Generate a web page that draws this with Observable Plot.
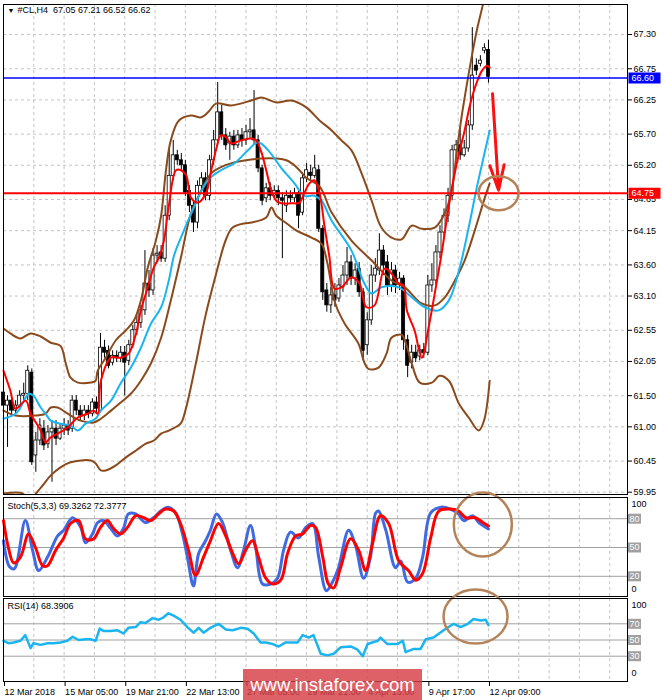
<!DOCTYPE html>
<html><head><meta charset="utf-8">
<script src="https://cdn.jsdelivr.net/npm/d3@7"></script>
<script src="https://cdn.jsdelivr.net/npm/@observablehq/plot@0.6"></script>
<style>
html,body{margin:0;padding:0;background:#fff;}
#chart{position:relative;width:665px;height:700px;overflow:hidden;background:#fff;font-family:'Liberation Sans',Arial,sans-serif;}
#chart svg{position:absolute;left:0;overflow:visible;background:transparent;}
#wm{position:absolute;left:243px;top:669px;width:179px;height:31px;background:rgba(214,62,70,0.82);color:#fff;font-size:18.5px;line-height:31px;text-align:center;font-family:'Liberation Sans',Arial,sans-serif;}
</style></head><body><div id="chart"><div id="wm">www.instaforex.com</div></div>
<script>
// ---------- data ----------
const symbolName = "#CL,H4";
const opens = [61.55,61.34,61.42,61.26,61.34,61.50,61.53,61.87,60.54,60.78,
60.97,60.72,60.91,60.97,60.81,60.97,61.02,60.97,61.42,61.26,
61.18,61.26,61.21,61.39,61.26,62.27,62.22,62.03,62.14,62.10,
62.19,62.06,62.31,62.55,62.67,62.87,63.30,63.19,63.75,63.80,
63.70,64.39,65.03,65.36,65.28,65.20,64.79,64.55,64.28,64.87,
64.99,64.71,65.28,65.60,66.05,65.68,65.55,65.66,65.52,65.68,
65.60,65.73,65.76,65.60,65.15,64.67,64.83,64.71,64.79,64.67,
64.55,64.71,64.67,64.75,64.44,64.99,65.08,65.03,65.12,64.18,
63.19,62.95,63.11,63.06,63.24,63.43,63.64,63.38,63.54,63.16,
62.31,62.71,63.43,63.51,63.83,63.64,63.27,63.51,63.30,63.38,
62.39,62.03,62.19,62.13,62.23,62.19,63.27,63.35,63.80,64.12,
64.39,64.71,65.44,65.52,65.36,65.47,65.84,66.80,66.83,67.04,67.05];
const highs = [61.61,61.50,61.47,61.42,61.58,61.70,61.98,61.93,60.91,61.13,
61.10,61.02,61.10,61.10,61.05,61.13,61.10,61.50,61.50,61.34,
61.34,61.34,61.45,61.48,62.50,62.39,62.30,62.22,62.22,62.29,
62.29,62.39,62.63,62.79,62.95,63.83,63.51,63.86,63.91,63.91,
64.55,65.47,65.60,65.44,65.39,65.28,64.87,64.63,64.95,65.08,
65.08,65.36,65.76,66.53,66.16,65.79,65.73,65.76,65.76,65.79,
65.84,65.95,66.40,65.68,65.20,64.91,64.92,64.87,64.87,64.76,
64.79,64.79,64.83,64.79,65.08,65.23,65.20,65.36,65.20,64.23,
63.30,63.24,63.30,63.38,63.59,63.88,63.75,63.62,63.64,63.22,
62.83,63.59,63.70,64.10,63.91,63.75,63.64,63.59,63.48,63.43,
62.47,62.31,62.31,62.31,62.34,63.43,63.62,63.91,64.23,64.50,
64.83,65.52,65.60,65.80,65.60,65.92,67.41,66.91,66.96,67.15,67.21];
const lows = [61.23,60.67,61.18,61.21,61.26,61.39,61.42,60.38,60.27,60.70,
60.62,60.65,60.11,60.70,60.78,60.86,60.86,60.91,61.18,61.10,
61.10,61.13,61.16,61.23,61.23,62.10,61.93,61.98,62.03,62.03,
61.50,61.98,62.26,62.47,62.58,62.79,63.08,63.11,63.64,63.64,
63.64,64.31,64.95,65.20,65.12,64.70,64.44,64.12,64.18,64.79,
64.63,64.63,65.20,65.52,65.60,65.44,65.28,65.44,65.47,65.49,
65.52,65.63,65.52,65.08,64.55,64.60,64.63,64.67,64.55,63.70,
64.44,64.59,64.60,64.18,64.39,64.92,64.95,64.99,64.12,63.03,
62.84,62.82,62.92,63.00,63.16,63.27,63.27,63.27,63.08,62.06,
62.15,62.63,63.32,63.43,63.43,63.11,63.16,63.14,63.19,62.23,
61.79,61.93,62.03,62.06,62.10,62.14,63.16,63.27,63.70,64.02,
64.28,64.63,65.31,65.28,65.33,65.41,65.76,66.64,66.78,66.99,66.52];
const closes = [61.34,61.42,61.26,61.34,61.50,61.53,61.90,60.43,60.78,61.02,
60.70,60.91,60.97,60.81,60.97,61.02,60.94,61.42,61.26,61.18,
61.26,61.21,61.39,61.29,62.27,62.19,61.98,62.14,62.10,62.19,
62.03,62.31,62.55,62.67,62.87,63.30,63.19,63.75,63.78,63.70,
64.39,65.03,65.36,65.28,65.20,64.76,64.55,64.28,64.87,64.99,
64.71,65.28,65.60,66.05,65.68,65.52,65.66,65.52,65.68,65.60,
65.73,65.76,65.60,65.15,64.63,64.83,64.71,64.79,64.67,64.63,
64.71,64.67,64.75,64.39,64.99,65.12,65.03,65.15,64.18,63.16,
62.95,63.11,63.03,63.27,63.43,63.64,63.38,63.51,63.16,62.22,
62.71,63.43,63.54,63.83,63.59,63.27,63.51,63.27,63.38,62.39,
61.98,62.19,62.10,62.23,62.18,63.27,63.35,63.80,64.12,64.39,
64.71,65.44,65.52,65.36,65.47,65.84,66.64,66.72,66.88,67.08,66.62];

// moving averages and Bollinger bands: [bar, price]
const redMA = [[0,61.90],[1.7,61.58],[3,61.29],[5.5,61.42],[6.7,61.21],[9.2,60.94],[10.4,60.75],[11.7,60.83],[13.4,60.89],[15.9,60.99],[18.4,61.15],[20.8,61.21],[22.3,61.26],[23.3,61.21],[24.1,61.74],[26.6,62.11],[29,62.11],[31,62.18],[32.8,62.50],[34,62.87],[35.7,63.24],[37.2,63.56],[38.5,63.72],[39.7,63.99],[40.9,64.55],[42.7,65.12],[43.9,65.12],[45.2,65.04],[46.4,64.68],[48.1,64.60],[50.1,64.75],[51.4,65.12],[52.6,65.45],[53.8,65.68],[55.1,65.65],[56.3,65.55],[58.8,65.60],[61.3,65.63],[62.5,65.60],[63.8,65.41],[65,65.12],[66.3,64.79],[67.5,64.63],[68.7,64.59],[71.2,64.59],[73.2,64.60],[74.4,64.75],[75.7,64.91],[76.9,64.96],[78.2,64.75],[79.4,64.23],[80.6,63.75],[81.9,63.22],[83.6,63.24],[86.1,63.40],[88.1,63.30],[89.8,62.92],[91.8,62.95],[94.3,63.54],[96,63.46],[97.8,63.30],[99,63.27],[99.8,62.87],[101.7,62.55],[103.5,62.11],[105.2,62.60],[106.7,63.14],[108.4,63.78],[110.2,64.55],[111.4,64.99],[112.9,65.44],[114.1,65.76],[115.4,66.16],[117.1,66.53],[118.4,66.72],[119.6,66.80],[120.3,66.77]];
const cyanMA = [[0,61.13],[3,61.21],[4.2,61.31],[5.5,61.47],[6.2,61.53],[7.4,61.50],[9.2,61.31],[10.4,61.21],[11.7,61.10],[14.1,61.05],[16.6,61.02],[18.4,60.94],[20.3,61.05],[22.8,61.13],[24.1,61.26],[26.6,61.42],[29,61.70],[31.5,61.95],[34,62.27],[36.5,62.66],[39,62.92],[40.9,63.35],[42.2,63.75],[44.3,64.10],[46.4,64.42],[50.6,64.96],[53.8,65.12],[57.1,65.23],[60.5,65.44],[63,65.57],[65.5,65.44],[68.7,65.16],[72,64.91],[74.4,64.71],[76.9,64.71],[78.7,64.63],[81.2,64.31],[86.1,63.83],[89.3,63.30],[91.1,63.14],[93.5,63.24],[97.8,63.24],[101,63.08],[104.2,62.92],[107.7,62.87],[110.2,63.03],[112.7,63.51],[115.1,64.20],[117.1,64.84],[118.9,65.36],[120.3,65.76]];
const upperBand = [[0,62.58],[1.7,62.50],[4.2,62.42],[6.7,62.50],[9.2,62.45],[11.7,62.35],[14.1,62.30],[15.4,62.02],[16.6,61.79],[18.4,61.71],[21.6,61.71],[22.8,61.74],[23.3,61.90],[25.3,62.11],[27.8,62.39],[30.3,62.55],[32.3,62.71],[34,63.03],[35.7,63.56],[37.7,63.99],[39,64.39],[40.2,65.12],[41.4,65.60],[43.4,65.92],[46.4,66.00],[48.9,65.97],[50.6,66.05],[52.6,66.19],[56.3,66.16],[61.3,66.24],[63.8,66.29],[67.5,66.21],[71.2,66.24],[74.9,66.13],[78.2,65.92],[81.2,65.76],[83.6,65.60],[86.1,65.44],[88.6,65.07],[91.1,64.63],[93.5,64.20],[96,64.04],[98.5,64.01],[101,64.23],[103.5,64.18],[106.7,64.20],[109.2,64.43],[110.9,64.79],[112.2,65.44],[113.4,66.00],[114.6,66.48],[115.9,66.96],[117.1,67.36],[118.4,67.72],[120.3,68.25]];
const midBand = [[0,61.26],[3,61.18],[7.9,61.18],[10.4,61.21],[11.7,61.31],[13.4,61.31],[15.9,61.21],[19.1,61.10],[22.3,61.07],[24.1,61.13],[26.6,61.26],[29,61.39],[31.5,61.53],[34,61.74],[36.5,62.02],[39,62.43],[41.4,63.03],[43.9,63.72],[46.4,64.43],[48.9,64.79],[51.4,65.07],[53.8,65.17],[56.3,65.23],[60,65.28],[63.8,65.31],[67.5,65.31],[70,65.28],[72.5,65.17],[74.9,65.00],[78.2,64.86],[81.2,64.44],[86.1,63.99],[91.1,63.67],[96,63.35],[99.3,63.24],[103.5,62.98],[106.7,62.95],[109.2,63.08],[111.7,63.35],[114.1,63.67],[116.6,64.15],[119.1,64.68],[120.3,64.91]];
const lowerBand = [[0,59.93],[4.2,59.94],[6.7,59.86],[9.2,60.02],[11.7,60.22],[14.1,60.35],[16.6,60.43],[21.6,60.46],[22.8,60.41],[24.1,60.30],[25.3,60.30],[27.8,60.38],[30.3,60.51],[32.8,60.62],[35.2,60.73],[37.2,60.78],[39,60.89],[40.9,60.94],[43.8,61.05],[45,61.26],[47.5,61.99],[50,62.79],[52.5,63.43],[55,64.00],[56.7,64.20],[59.9,64.27],[61.3,64.28],[65,64.36],[66.3,64.52],[67.5,64.39],[70,64.27],[72.5,64.15],[76.2,64.04],[78.7,63.94],[80.1,63.64],[82.1,62.98],[84.4,62.66],[87.8,62.34],[89.3,62.03],[90.3,61.93],[92.8,61.95],[94.8,62.18],[96,62.43],[98.5,62.48],[99.3,62.39],[101,62.02],[103,61.71],[106,61.71],[107.9,61.82],[110.2,61.74],[112.7,61.37],[115.1,61.15],[117.6,60.94],[118.9,61.10],[120.3,61.74]];

// horizontal levels
const levelBlue = 66.60;
const levelRed = 64.75;
const priceTicks = [67.30,66.75,66.25,65.70,65.20,64.65,64.15,63.60,63.10,62.55,62.05,61.50,61.00,60.45,59.95];

// stochastic %K (blue) and %D (red): [bar, value]
const stochParams = "5,3,3";
const stochK = [[0,57],[1.5,30],[2.7,28],[5.4,78],[7.2,47],[8.7,26],[10.9,40],[13.4,62],[14.9,68],[17.1,81],[19.1,71],[20.3,55],[22,64],[23.3,76],[24.8,78],[26.5,70],[28.2,62],[29.7,70],[30.9,85],[32.7,85],[35.1,76],[37.1,81],[38.9,88],[40.8,92],[42.6,86],[44.3,64],[45.5,40],[47,10],[48.3,44],[50,57],[51.2,68],[52.7,85],[54.2,76],[56.2,47],[57.9,29],[59.4,47],[61.1,73],[62.4,50],[64.1,12],[66.1,12],[67.8,18],[69.3,47],[71,66],[73,60],[74.8,71],[76.5,75],[78,40],[79.9,5],[81.4,14],[82.9,29],[85.4,68],[87.1,52],[89.1,18],[90.8,40],[92.1,86],[92.8,88],[94.6,68],[97,29],[98.3,36],[100,14],[102,18],[103.7,40],[105.7,86],[108.2,92],[110.6,90],[112.6,85],[113.9,78],[116.1,83],[117.6,76],[120,69.3262]];
const stochD = [[0,78],[1.2,50],[2.5,34],[4.2,40],[6.2,64],[7.9,50],[9.7,31],[10.9,31],[12.9,47],[14.9,60],[16.6,75],[18.6,78],[20.3,59],[22.3,59],[24,71],[25.7,78],[27.2,70],[29,64],[30.7,71],[32.7,83],[34.7,81],[36.4,78],[38.4,85],[40.1,90],[42.1,88],[43.8,75],[45.8,47],[47.5,21],[49.5,40],[51.2,57],[53.2,75],[55,62],[56.7,44],[58.2,33],[59.9,47],[61.6,57],[63.1,40],[64.9,18],[66.6,12],[68.6,16],[70.3,44],[72.3,62],[74,64],[76,73],[77.2,71],[79,40],[80.4,12],[81.7,8],[83.4,29],[85.9,59],[87.9,47],[89.6,26],[91.3,54],[93.3,83],[95.3,75],[97.8,36],[100.2,26],[102,16],[103.7,23],[105.7,60],[107.7,88],[110.6,90],[112.6,88],[114.4,81],[116.8,81],[118.6,76],[120,72.3777]];
const stochLevels = [80, 50, 20];

// RSI(14): [bar, value]
const rsiPeriod = 14;
const rsi = [[0,49],[1.2,46],[2.5,47],[4.2,49],[5.4,56],[6.7,40],[7.4,46],[9.2,44],[10.9,46],[12.4,46],[14.1,47],[15.8,49],[17.1,54],[18.6,50],[20.3,51],[21.5,51],[22.8,49],[23.8,64],[24.8,61],[26.5,61],[28.2,62],[29.7,58],[30.9,65],[32.7,66],[33.9,72],[35.1,71],[36.9,77],[38.4,75],[39.6,78],[40.8,83],[42.1,80],[43.8,75],[45.5,66],[47,59],[48.3,65],[49.5,59],[51.2,65],[53.2,70],[55,63],[56.7,62],[58.7,65],[60.4,64],[61.9,58],[63.6,47],[64.9,47],[66.6,45],[68.1,42],[69.8,47],[71,47],[72.8,47],[74,56],[75.5,53],[76.7,56],[78.5,33],[80.2,31],[81.7,33],[83.4,41],[85.9,42],[87.6,38],[88.9,30],[90.1,45],[92.6,49],[93.3,53],[95,45],[97.5,45],[98.8,49],[99.5,35],[101.5,39],[103.2,39],[104.5,51],[106.4,53],[108.9,62],[111.4,70],[113.1,66],[114.9,70],[116.3,76],[118.1,74],[119.3,75],[120,68.3906]];
const rsiLevels = [70, 50, 30];

// time axis
const dateTickBars = [0,15,30,45,60,75,90,105,120];
const dateLabels = ["12 Mar 2018","15 Mar 05:00","19 Mar 21:00","22 Mar 13:00","27 Mar 05:00","29 Mar 21:00","4 Apr 13:00","9 Apr 17:00","12 Apr 09:00"];
const gridBars = d3.range(0, 155, 7.5);

// hand-drawn annotations (data coordinates)
const arrowLine = [{x1:121.0, y1:66.35, x2:122.5, y2:64.80}];
const priceCircle = [{bar:122.5, v:64.75}];
const stochCircle = [{bar:118.6, v:74}];
const rsiCircle = [{bar:116.8, v:79}];

// ---------- drawing ----------
const FONT = "'Liberation Sans', Arial, sans-serif";
const xMax = 154.4;
const X = {domain:[0, xMax], axis:null};
const grid = {stroke:"#c4c4c4", strokeDasharray:"3,3", strokeWidth:1};
const candles = opens.map((o,i)=>({bar:i, open:o, high:highs[i], low:lows[i], close:closes[i]}));
const last = candles[candles.length-1];
const fmt2 = d => d.toFixed(2);

function ellipseSym(rx, ry){ const k=0.5523; return {draw(c){
  c.moveTo(rx,0); c.bezierCurveTo(rx,k*ry,k*rx,ry,0,ry); c.bezierCurveTo(-k*rx,ry,-rx,k*ry,-rx,0);
  c.bezierCurveTo(-rx,-k*ry,-k*rx,-ry,0,-ry); c.bezierCurveTo(k*rx,-ry,rx,-k*ry,rx,0); c.closePath(); }}; }
function boxSym(w, h){ return {draw(c){ c.rect(-w/2,-h/2,w,h); }}; }
const P = (arr, opts) => Plot.line(arr, {x:d=>d[0], y:d=>d[1], curve:"catmull-rom", ...opts});

const style = {fontFamily:FONT, fontSize:"9px", background:"transparent", overflow:"visible"};
const bandColor = "#8b4a1c";
const circleColor = "#b5835a";

const main = Plot.plot({
  width:665, height:496, marginLeft:3, marginRight:38, marginTop:4, marginBottom:2,
  x:X, y:{domain:[59.913, 67.782], axis:null}, style,
  marks:[
    Plot.ruleX(gridBars, grid),
    Plot.ruleY(priceTicks, grid),
    Plot.ruleX(candles, {x:"bar", y1:"low", y2:"high", stroke:"#000", strokeWidth:1}),
    Plot.rect(candles.filter(d=>d.close>=d.open), {x1:d=>d.bar-0.38, x2:d=>d.bar+0.38, y1:"open", y2:"close", fill:"#fff", stroke:"#000", strokeWidth:0.8}),
    Plot.rect(candles.filter(d=>d.close<d.open), {x1:d=>d.bar-0.38, x2:d=>d.bar+0.38, y1:"open", y2:"close", fill:"#000", stroke:"#000", strokeWidth:0.8}),
    P(upperBand, {stroke:bandColor, strokeWidth:2, clip:true}),
    P(midBand, {stroke:bandColor, strokeWidth:2}),
    P(lowerBand, {stroke:bandColor, strokeWidth:2, clip:true}),
    P(cyanMA, {stroke:"#1ab4f0", strokeWidth:2}),
    P(redMA, {stroke:"#ff0000", strokeWidth:2}),
    Plot.ruleY([levelBlue], {stroke:"#0000ff", strokeWidth:1.5}),
    Plot.ruleY([levelRed], {stroke:"#ff0000", strokeWidth:2}),
    Plot.arrow(arrowLine, {x1:"x1", y1:"y1", x2:"x2", y2:"y2", stroke:"#ff1010", strokeWidth:3, headLength:13, headAngle:32}),
    Plot.dot(priceCircle, {x:"bar", y:"v", symbol:ellipseSym(20,17), fill:"none", stroke:circleColor, strokeWidth:2.5}),
    Plot.axisY({anchor:"right", ticks:priceTicks, tickFormat:fmt2, tickSize:4, tickPadding:2, label:null}),
    Plot.dot([levelBlue], {x:()=>xMax, y:d=>d, dx:17, symbol:boxSym(32,11), fill:"#0000ff", stroke:"none"}),
    Plot.text([levelBlue], {x:()=>xMax, y:d=>d, dx:4, textAnchor:"start", text:fmt2, fill:"#fff"}),
    Plot.dot([levelRed], {x:()=>xMax, y:d=>d, dx:17, symbol:boxSym(32,11), fill:"#ff0000", stroke:"none"}),
    Plot.text([levelRed], {x:()=>xMax, y:d=>d, dx:4, textAnchor:"start", text:fmt2, fill:"#fff"}),
    Plot.frame({stroke:"#000"}),
    Plot.text(["\u25BC"], {frameAnchor:"top-left", dx:4, dy:6, fontSize:7, textAnchor:"start", lineAnchor:"middle"}),
    Plot.text([`${symbolName}\u00a0 ${fmt2(last.open)} ${fmt2(last.high)} ${fmt2(last.low)} ${fmt2(last.close)}`], {frameAnchor:"top-left", dx:14, dy:6, textAnchor:"start", lineAnchor:"middle"})
  ]
});

const stoch = Plot.plot({
  width:665, height:101, marginLeft:3, marginRight:38, marginTop:1, marginBottom:1,
  x:X, y:{domain:[-1.04, 102.08], axis:null}, style,
  marks:[
    Plot.ruleX(gridBars, grid),
    Plot.ruleY(stochLevels, {stroke:"#a0a0a0", strokeWidth:1}),
    P(stochK, {stroke:"#4169e1", strokeWidth:3}),
    P(stochD, {stroke:"#ff0000", strokeWidth:3}),
    Plot.dot(stochCircle, {x:"bar", y:"v", symbol:ellipseSym(29,32), fill:"none", stroke:circleColor, strokeWidth:2.5}),
    Plot.dot(stochLevels, {x:()=>xMax, y:d=>d, dx:7, symbol:boxSym(13,10), fill:"#a0a0a0", stroke:"none"}),
    Plot.text(stochLevels, {x:()=>xMax, y:d=>d, dx:7, text:d=>String(d), fill:"#fff"}),
    Plot.text([100], {x:()=>xMax, y:d=>d, dx:4, dy:5, textAnchor:"start", text:d=>String(d)}),
    Plot.text([0], {x:()=>xMax, y:d=>d, dx:4, dy:-6, textAnchor:"start", text:d=>String(d)}),
    Plot.frame({stroke:"#000"}),
    Plot.text([`Stoch(${stochParams}) ${stochK[stochK.length-1][1].toFixed(4)} ${stochD[stochD.length-1][1].toFixed(4)}`], {frameAnchor:"top-left", dx:4, dy:9, textAnchor:"start", lineAnchor:"middle"})
  ]
});

const rsiPlot = Plot.plot({
  width:665, height:103, marginLeft:3, marginRight:38, marginTop:1, marginBottom:19,
  x:X, y:{domain:[-1.23, 101.23], axis:null}, style,
  marks:[
    Plot.ruleX(gridBars, grid),
    Plot.ruleY(rsiLevels, {stroke:"#a0a0a0", strokeWidth:1}),
    P(rsi, {stroke:"#1ab4f0", strokeWidth:2.5, curve:"linear"}),
    Plot.dot(rsiCircle, {x:"bar", y:"v", symbol:ellipseSym(32,27), fill:"none", stroke:circleColor, strokeWidth:2.5}),
    Plot.dot(rsiLevels, {x:()=>xMax, y:d=>d, dx:7, symbol:boxSym(13,10), fill:"#a0a0a0", stroke:"none"}),
    Plot.text(rsiLevels, {x:()=>xMax, y:d=>d, dx:7, text:d=>String(d), fill:"#fff"}),
    Plot.text([100], {x:()=>xMax, y:d=>d, dx:4, dy:6, textAnchor:"start", text:d=>String(d)}),
    Plot.text([0], {x:()=>xMax, y:d=>d, dx:4, dy:-7, textAnchor:"start", text:d=>String(d)}),
    Plot.axisX({anchor:"bottom", ticks:dateTickBars, tickFormat:d=>dateLabels[dateTickBars.indexOf(d)], tickSize:5, tickPadding:2, textAnchor:"start", dx:1, label:null}),
    Plot.frame({stroke:"#000"}),
    Plot.text([`RSI(${rsiPeriod}) ${rsi[rsi.length-1][1].toFixed(4)}`], {frameAnchor:"top-left", dx:4, dy:8, textAnchor:"start", lineAnchor:"middle"})
  ]
});

const chart = document.getElementById("chart");
const wm = document.getElementById("wm");
main.style.top = "0px"; stoch.style.top = "496px"; rsiPlot.style.top = "597px";
chart.insertBefore(main, wm);
chart.insertBefore(stoch, wm);
chart.insertBefore(rsiPlot, wm);
</script></body></html>
